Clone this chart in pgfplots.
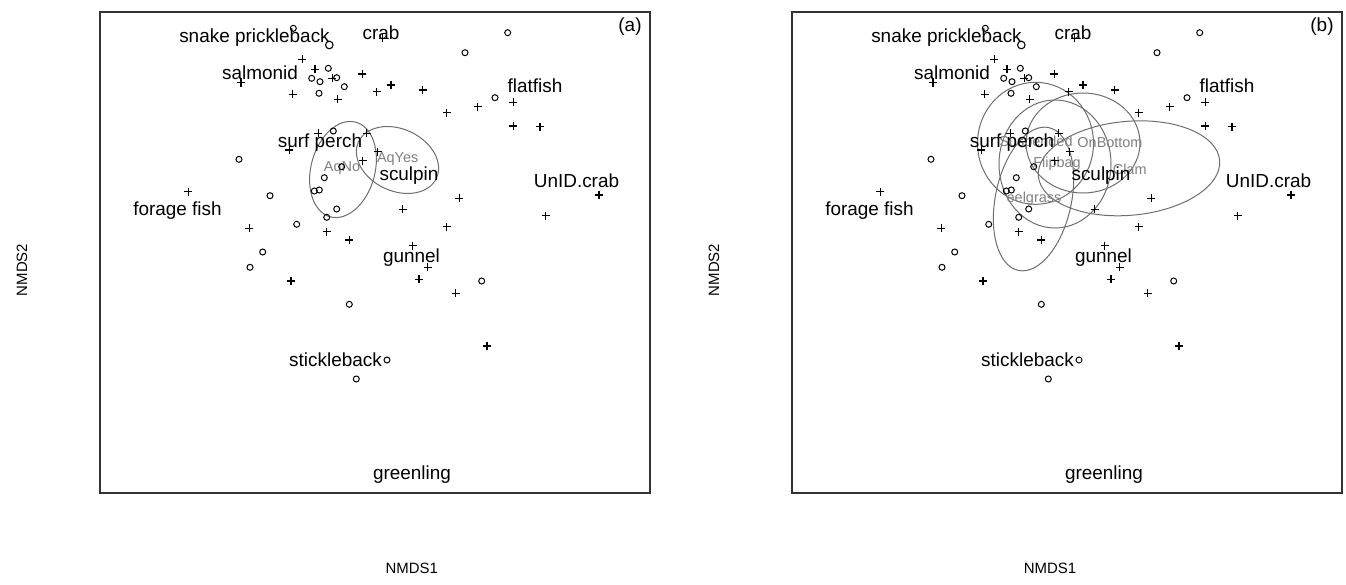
\documentclass[border=0pt]{standalone}
\usepackage{pgfplots}
\pgfplotsset{compat=1.18}
\usepackage{pgfplotstable}
\usepackage{fontspec}
\setmainfont{Liberation Sans}
\definecolor{ell}{RGB}{110,110,110}
\definecolor{elltxt}{RGB}{128,128,128}

\pgfplotstableread{
x y
293.3 28.3
328.3 68.3
311.7 78.3
320 81.7
336.7 77.7
344.3 86.7
319 93.3
333.3 131
239 159.3
341.7 166.7
324.3 177.7
314.3 191
319.3 190
270 195.7
336.7 209
326.7 217.3
296.7 224.3
507.7 32.7
465 52.7
495 97.7
262.7 252
250 267.3
349.3 304.3
481.7 281
387 360
356.3 379
}\sites

\pgfplotstableread{
x y
329.3 45
}\bigsite

\pgfplotstableread{
x y
382.7 38.3
302.3 59.3
315 69.3
332.3 78.3
362.3 74
241 82.7
292.7 94.3
337.7 99.3
376.7 91.7
391 85
318.3 133.3
366.7 133.3
289.3 150
377.7 151.7
362.7 160.7
188.3 191.7
249.3 228.3
326.7 231.7
349.3 240
422.7 90
446.7 112.7
477.7 106.7
513.3 102.3
513.3 126
540 126.7
599 195
459.3 198.3
402.7 209.3
545.7 215.7
446.7 226.7
412.7 245.7
427.7 267.3
419 279.3
455.7 293.3
291 281
487 346
}\species

\pgfplotsset{
  nmds/.style={
    scale only axis, width=550bp, height=481bp,
    xmin=100, xmax=650, ymin=12, ymax=493, y dir=reverse,
    xtick=\empty, ytick=\empty,
    axis line style={black!80, line width=1.1bp},
    xlabel={NMDS1}, ylabel={NMDS2},
    label style={font=\fontsize{15}{18}\selectfont},
    ylabel style={at={(axis description cs:-0.1418,0.4636)}, anchor=center},
    clip=false,
  },
}
\tikzset{
  spt/.style={font=\fontsize{19}{22}\selectfont, inner sep=0pt, anchor=center},
  etx/.style={font=\fontsize{14.5}{16}\selectfont, text=elltxt, inner sep=0pt, anchor=center},
  el/.style={draw=ell, line width=1bp},
}

\newcommand{\common}{%
  \addplot[only marks, mark=o, mark size=3bp, mark options={line width=1bp}] table {\sites};
  \addplot[only marks, mark=o, mark size=3.8bp, mark options={line width=1.1bp}] table {\bigsite};
  \addplot[only marks, mark=+, mark size=4.1bp, mark options={line width=1.1bp}] table {\species};
  \node[spt] at (axis cs:254.5,37.7) {snake prickleback};
  \node[spt] at (axis cs:381,33) {crab};
  \node[spt] at (axis cs:260,73) {salmonid};
  \node[spt] at (axis cs:320,143) {surf perch};
  \node[spt] at (axis cs:177.5,211) {forage fish};
  \node[spt] at (axis cs:409,176) {sculpin};
  \node[spt] at (axis cs:535,86) {flatfish};
  \node[spt] at (axis cs:576.5,181) {UnID.crab};
  \node[spt] at (axis cs:411.5,258) {gunnel};
  \node[spt] at (axis cs:335.5,360) {stickleback};
  \node[spt] at (axis cs:412,475) {greenling};
}

\begin{document}
\begin{tikzpicture}
\useasboundingbox (0,0) rectangle (1346bp,585bp);
\begin{axis}[nmds, at={(100bp,92bp)}, anchor=south west,
  xlabel style={at={(axis description cs:0.567,-0.156)}, anchor=center}]
  \draw[el, rotate around={-15:(axis cs:343,169.5)}] (axis cs:343,169.5) ellipse [x radius=32, y radius=49];
  \draw[el, rotate around={-25:(axis cs:397.5,160)}] (axis cs:397.5,160) ellipse [x radius=43, y radius=31];
  \node[etx] at (axis cs:342,168) {AqNo};
  \node[etx] at (axis cs:397.7,159.3) {AqYes};
  \common
  \node[spt] at (axis cs:630,26.7) {(a)};
\end{axis}
\begin{axis}[nmds, at={(792bp,92bp)}, anchor=south west,
  xlabel style={at={(axis description cs:0.469,-0.156)}, anchor=center}]
  \draw[el] (axis cs:343.5,143.3) ellipse [x radius=58, y radius=61];
  \draw[el] (axis cs:363,164) ellipse [x radius=56, y radius=64];
  \draw[el] (axis cs:391,143) ellipse [x radius=57, y radius=50];
  \draw[el, rotate around={5:(axis cs:437,168.3)}] (axis cs:437,168.3) ellipse [x radius=91, y radius=47];
  \draw[el, rotate around={-12:(axis cs:341.5,199)}] (axis cs:341.5,199) ellipse [x radius=38, y radius=73];
  \node[etx] at (axis cs:344,143) {Suspended};
  \node[etx] at (axis cs:418,143) {OnBottom};
  \node[etx] at (axis cs:365,163.3) {Flipbag};
  \node[etx] at (axis cs:437.7,169.3) {Clam};
  \node[etx] at (axis cs:342,198.3) {eelgrass};
  \common
  \node[spt] at (axis cs:630,26.7) {(b)};
\end{axis}
\end{tikzpicture}
\end{document}
